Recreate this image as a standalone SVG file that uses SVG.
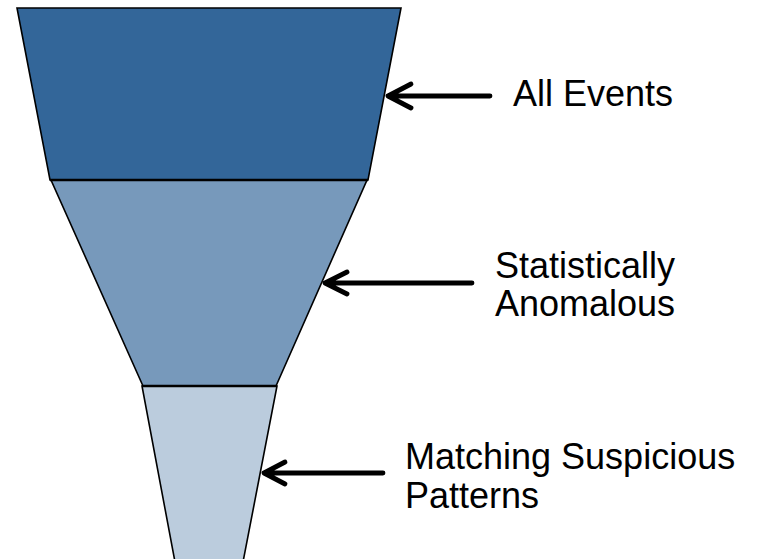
<svg xmlns="http://www.w3.org/2000/svg" width="763" height="559" viewBox="0 0 763 559">
<style>
.seg{stroke:#000;stroke-width:1.6;stroke-linejoin:miter}
.sep{stroke:#000;stroke-width:2.6}
.arr{fill:none;stroke:#000;stroke-width:4.8;stroke-linecap:round;stroke-linejoin:round}
.lbl{font-family:"Liberation Sans",Arial,sans-serif;font-size:36px;fill:#000}
</style>
<rect width="763" height="559" fill="#fff"/>
<g id="all-events">
<polygon class="seg" fill="#336699" points="17,8 401,8 368,180 50,180"/>
</g>
<g id="statistically-anomalous">
<polygon class="seg" fill="#7799bb" points="51,180 367,180 276,386 143,386"/>
<line class="sep" x1="50" y1="180" x2="368" y2="180"/>
</g>
<g id="matching-patterns">
<polygon class="seg" fill="#bbccdd" points="142,386 277,386 243,562 175,562"/>
<line class="sep" x1="142" y1="386" x2="277" y2="386"/>
</g>
<g id="connectors">
<path class="arr" d="M490,96 H388 M411,84 L388,96 L411,108"/>
<path class="arr" d="M472,283 H325 M347,272 L325,283 L347,294"/>
<path class="arr" d="M383,473 H264 M285,462 L264,473 L285,484"/>
</g>
<g id="labels">
<text class="lbl" x="513" y="106">All Events</text>
<text class="lbl" x="495" y="278">Statistically</text>
<text class="lbl" x="495" y="316">Anomalous</text>
<text class="lbl" x="405" y="469">Matching Suspicious</text>
<text class="lbl" x="405" y="508">Patterns</text>
</g>
</svg>
